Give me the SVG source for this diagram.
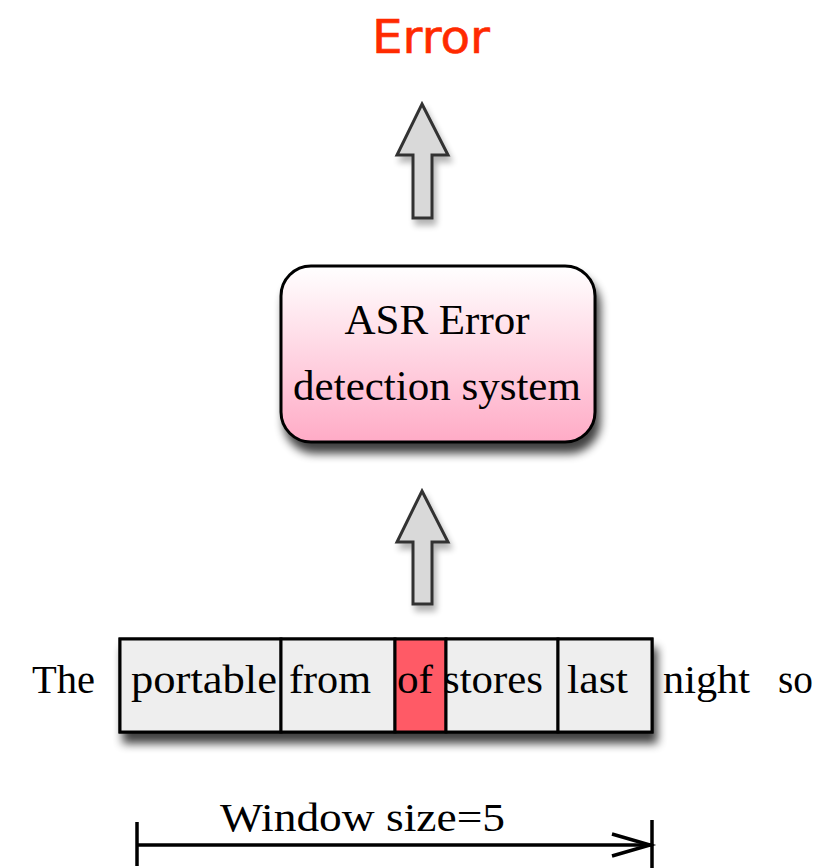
<svg xmlns="http://www.w3.org/2000/svg" width="838" height="868" viewBox="0 0 838 868">
  <style>
    .serif { font-family: "Liberation Serif", "DejaVu Serif", serif; fill: #000; }
    .word { font-size: 40px; }
    .cell { fill: #eeeeee; stroke: #000; stroke-width: 3; }
    .hot { fill: #ff5a66; stroke: #000; stroke-width: 3; }
    .big-arrow { fill: #d9d9d9; stroke: #333; stroke-width: 3; stroke-linejoin: miter; }
    .dim { stroke: #000; stroke-width: 3.5; fill: none; }
  </style>
  <defs>
    <linearGradient id="boxFill" x1="0" y1="0" x2="0" y2="1">
      <stop offset="0" stop-color="#ffffff"/>
      <stop offset="1" stop-color="#ffabc6"/>
    </linearGradient>
    <filter id="shadow" x="-20%" y="-20%" width="140%" height="150%">
      <feGaussianBlur in="SourceAlpha" stdDeviation="5"/>
      <feOffset dx="4" dy="10" result="b"/>
      <feComponentTransfer><feFuncA type="linear" slope="0.75"/></feComponentTransfer>
      <feMerge><feMergeNode/><feMergeNode in="SourceGraphic"/></feMerge>
    </filter>
    <filter id="softShadow" x="-30%" y="-20%" width="160%" height="140%">
      <feGaussianBlur in="SourceAlpha" stdDeviation="3"/>
      <feOffset dx="3" dy="6" result="b"/>
      <feComponentTransfer><feFuncA type="linear" slope="0.3"/></feComponentTransfer>
      <feMerge><feMergeNode/><feMergeNode in="SourceGraphic"/></feMerge>
    </filter>
  </defs>

  <!-- output label -->
  <g id="error-label">
    <text x="372" y="53" font-family="'DejaVu Sans', sans-serif" font-size="47" fill="#ff2a00" stroke="#ff2a00" stroke-width="0.6" textLength="118" lengthAdjust="spacingAndGlyphs">Error</text>
  </g>

  <!-- connectors: block arrows -->
  <g id="connectors">
    <path class="big-arrow" filter="url(#softShadow)" d="M422 104 L448 155 L432 155 L432 218 L413 218 L413 155 L397 155 Z"/>
    <path class="big-arrow" filter="url(#softShadow)" d="M422 491 L448 542 L432 542 L432 604 L413 604 L413 542 L397 542 Z"/>
  </g>

  <!-- detector box -->
  <g id="asr-system">
    <rect x="281" y="266" width="314" height="176" rx="30" ry="30" fill="url(#boxFill)" stroke="#000" stroke-width="3" filter="url(#shadow)"/>
    <text class="serif" x="437" y="334" font-size="43" text-anchor="middle">ASR Error</text>
    <text class="serif" x="437" y="400" font-size="43" text-anchor="middle">detection system</text>
  </g>

  <!-- sentence with sliding window -->
  <g id="window">
    <g filter="url(#shadow)">
      <rect class="cell" x="120" y="639" width="532" height="93"/>
    </g>
    <rect class="cell" x="120" y="639" width="161" height="93"/>
    <rect class="cell" x="281" y="639" width="114" height="93"/>
    <rect class="hot" x="395" y="639" width="51" height="93"/>
    <rect class="cell" x="446" y="639" width="112" height="93"/>
    <rect class="cell" x="558" y="639" width="94" height="93"/>
  </g>
  <g id="words" class="serif word">
    <text x="32" y="693" textLength="63" lengthAdjust="spacingAndGlyphs">The</text>
    <text x="131" y="693" textLength="146" lengthAdjust="spacingAndGlyphs">portable</text>
    <text x="289" y="693" textLength="82" lengthAdjust="spacingAndGlyphs">from</text>
    <text x="397" y="693" textLength="36" lengthAdjust="spacingAndGlyphs">of</text>
    <text x="443" y="693" textLength="100" lengthAdjust="spacingAndGlyphs">stores</text>
    <text x="567" y="693" textLength="61" lengthAdjust="spacingAndGlyphs">last</text>
    <text x="663" y="693" textLength="87" lengthAdjust="spacingAndGlyphs">night</text>
    <text x="778" y="693" textLength="35" lengthAdjust="spacingAndGlyphs">so</text>
  </g>

  <!-- window size dimension -->
  <g id="window-size">
    <line class="dim" x1="137" y1="822" x2="137" y2="866"/>
    <line class="dim" x1="137" y1="845" x2="651" y2="845"/>
    <line class="dim" x1="652" y1="820" x2="652" y2="868"/>
    <polyline class="dim" points="612,834 650,845 612,856"/>
    <text class="serif" x="220" y="831" font-size="40" textLength="285" lengthAdjust="spacingAndGlyphs">Window size=5</text>
  </g>
</svg>
